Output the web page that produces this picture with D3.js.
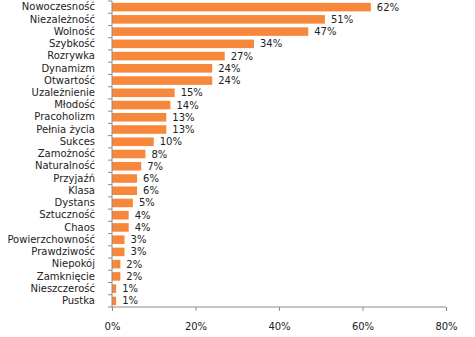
<!DOCTYPE html>
<html><head><meta charset="utf-8">
<script src="https://cdn.jsdelivr.net/npm/d3@7"></script>
<style>body{margin:0;background:#fff}svg{display:block}text{font-family:"DejaVu Sans",sans-serif}</style>
</head><body>
<svg id="c" width="475" height="337"></svg>
<script>
const categories = ["Nowoczesność","Niezależność","Wolność","Szybkość","Rozrywka","Dynamizm","Otwartość","Uzależnienie","Młodość","Pracoholizm","Pełnia życia","Sukces","Zamożność","Naturalność","Przyjaźń","Klasa","Dystans","Sztuczność","Chaos","Powierzchowność","Prawdziwość","Niepokój","Zamknięcie","Nieszczerość","Pustka"];
const values = [62,51,47,34,27,24,24,15,14,13,13,10,8,7,6,6,5,4,4,3,3,2,2,1,1];
const xTicks = [0,20,40,60,80];

const svg = d3.select("#c");
const x = d3.scaleLinear().domain([0,80]).range([112,446]);
const y = d3.scaleBand().domain(categories).range([1,307]).paddingInner(0.3).paddingOuter(0.15);
const color = "#F7883B", axisColor = "#8c8c8c";

svg.selectAll("rect.bar").data(values).join("rect").attr("class","bar")
  .attr("x", x(0)).attr("y",(d,i)=>y(categories[i]))
  .attr("width", d=>x(d)-x(0)).attr("height", y.bandwidth()).attr("fill", color);

svg.selectAll("text.val").data(values).join("text").attr("class","val")
  .attr("x", d=>x(d)+6).attr("y",(d,i)=>y(categories[i])+y.bandwidth()/2)
  .attr("dy","0.35em").attr("font-size",10).attr("fill","#222").text(d=>d+"%");

const yAxis = svg.append("g").attr("transform",`translate(${x(0)},0)`)
  .call(d3.axisLeft(y).tickSize(4).tickPadding(13));
yAxis.selectAll("text").attr("font-size",10).attr("fill","#222").style("font-family","DejaVu Sans");
yAxis.selectAll("line,path").attr("stroke",axisColor);
yAxis.select("path").attr("d","M0,1V307");
yAxis.selectAll(".tick line").remove();
const bounds = categories.map(c=>y(c)-y.step()*y.paddingInner()/2).concat([307]);
yAxis.selectAll("line.b").data(bounds).join("line").attr("class","b")
  .attr("x1",-4).attr("x2",0).attr("y1",d=>d).attr("y2",d=>d).attr("stroke",axisColor);

const xAxis = svg.append("g").attr("transform","translate(0,307)")
  .call(d3.axisBottom(x).tickValues(xTicks).tickFormat(d=>d+"%").tickSize(4).tickPadding(12));
xAxis.selectAll("text").attr("font-size",10).attr("fill","#222").style("font-family","DejaVu Sans");
xAxis.selectAll("line,path").attr("stroke",axisColor);
xAxis.select("path").attr("d","M112,0H446");
</script>
</body></html>
